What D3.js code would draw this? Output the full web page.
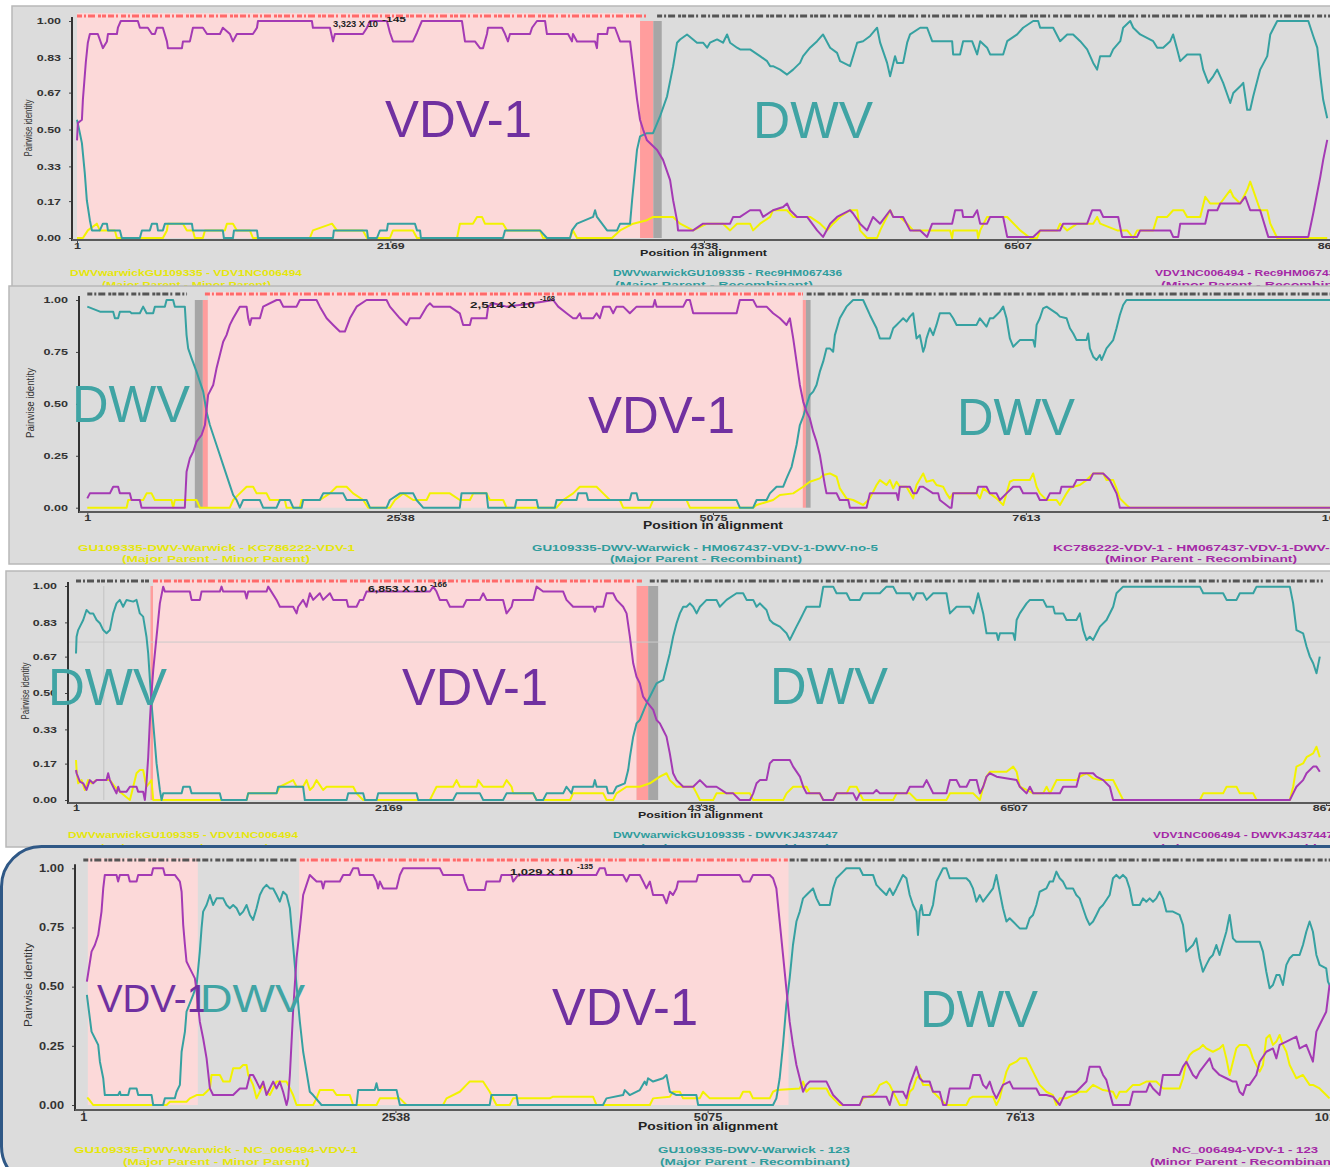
<!DOCTYPE html>
<html>
<head>
<meta charset="utf-8">
<script src="https://cdn.jsdelivr.net/npm/d3@7"></script>
<style>
  body { margin: 0; background: #ffffff; }
  svg { display: block; }
</style>
</head>
<body>
<svg id="chart" width="1330" height="1167"></svg>
<script>
// ---------- axis ticks ----------
const xTicks8676 = [1, 2169, 4338, 6507, 8676];
const xTicks10150 = [1, 2538, 5075, 7613, 10150];
const yTicksSixths = [0, 0.17, 0.33, 0.5, 0.67, 0.83, 1];
const yTicksQuarters = [0, 0.25, 0.5, 0.75, 1];

// ---------- panel 1: DWVwarwickGU109335 / VDV1NC006494 / Rec9HM067436 ----------
const p1Purple = [[1,.45],[7,.53],[35,.545],[42,.64],[62,.81],[76,.90],[90,.94],[145,.94],[180,.875],[208,.906],[215,.94],[277,.94],[284,.969],[304,1],[422,1],[436,.969],[491,.969],[519,.94],[540,.94],[554,.969],[595,.969],[623,.906],[630,.875],[727,.875],[734,.906],[782,.906],[803,.969],[872,.969],[900,.94],[990,.94],[1010,.969],[1059,.94],[1080,.906],[1107,.94],[1218,.94],[1246,.969],[1253,1],[1626,1],[1633,.969],[1751,.969],[1772,.906],[1785,.94],[1979,.94],[2007,.969],[2028,1],[2145,1],[2166,.946],[2187,.906],[2325,.906],[2353,.946],[2387,1],[2664,1],[2685,.906],[2754,.906],[2789,.875],[2810,.875],[2837,.94],[2844,.969],[2941,.969],[2962,.94],[2982,.906],[2996,.94],[3135,.94],[3149,.969],[3183,1],[3239,1],[3252,.94],[3398,.94],[3425,.906],[3432,.94],[3460,.906],[3585,.906],[3598,.875],[3605,.94],[3668,.94],[3675,.969],[3723,.969],[3758,.906],[3827,.906],[3848,.79],[3875,.64],[3896,.545],[3917,.5],[3944,.45],[4014,.406],[4055,.36],[4104,.267],[4125,.174],[4152,.08],[4159,.035],[4263,.035],[4332,.066],[4519,.066],[4540,.097],[4588,.097],[4657,.128],[4726,.128],[4747,.097],[4816,.128],[4886,.143],[4913,.159],[4934,.128],[4982,.097],[5052,.097],[5121,.035],[5162,.005],[5211,.066],[5259,.097],[5349,.128],[5370,.113],[5418,.066],[5467,.035],[5508,.097],[5557,.066],[5626,.128],[5647,.097],[5716,.097],[5764,.035],[5834,.035],[5882,.005],[5917,.066],[6055,.066],[6076,.128],[6124,.128],[6131,.097],[6200,.097],[6228,.128],[6249,.066],[6297,.066],[6318,.097],[6408,.097],[6436,.005],[6616,.005],[6664,.035],[6802,.035],[6823,.066],[6989,.066],[7024,.128],[7079,.128],[7100,.097],[7204,.097],[7231,.005],[7335,.005],[7356,.035],[7564,.035],[7584,.005],[7619,.005],[7633,.066],[7806,.066],[7827,.128],[7889,.128],[7910,.159],[8048,.159],[8083,.19],[8117,.128],[8186,.128],[8242,.005],[8519,.005],[8553,.113],[8602,.282],[8622,.36],[8650,.452]];
const p1Teal = [[1,.545],[21,.483],[35,.437],[55,.298],[69,.174],[90,.082],[104,.035],[159,.035],[180,.066],[208,.066],[215,.035],[298,.035],[311,0],[436,0],[450,.035],[505,.035],[519,.066],[554,.066],[561,.035],[595,.035],[609,.066],[796,.066],[803,.035],[1010,.035],[1017,0],[1080,0],[1087,.035],[1246,.035],[1253,0],[1772,0],[1778,.035],[2007,.035],[2014,0],[2076,0],[2097,.035],[2145,.035],[2152,.066],[2339,.066],[2353,.035],[2374,.035],[2380,0],[2948,0],[2962,.035],[3204,.035],[3252,0],[3412,0],[3425,.035],[3460,.066],[3571,.097],[3585,.128],[3598,.097],[3668,.035],[3737,.035],[3758,.066],[3827,.066],[3841,.174],[3875,.406],[3896,.468],[3944,.483],[3986,.483],[4034,.56],[4083,.653],[4125,.792],[4152,.9],[4173,.915],[4221,.938],[4263,.915],[4290,.9],[4332,.9],[4360,.877],[4380,.9],[4429,.915],[4470,.9],[4498,.938],[4519,.9],[4567,.877],[4588,.869],[4657,.869],[4726,.838],[4775,.815],[4796,.792],[4816,.792],[4865,.776],[4913,.753],[4955,.776],[5003,.807],[5024,.838],[5072,.877],[5121,.907],[5162,.938],[5211,.877],[5259,.853],[5280,.815],[5349,.792],[5398,.9],[5439,.907],[5488,.931],[5536,.969],[5557,.9],[5605,.807],[5626,.745],[5660,.838],[5674,.807],[5716,.807],[5744,.9],[5764,.938],[5834,.969],[5882,.969],[5917,.907],[6055,.907],[6062,.846],[6110,.846],[6131,.907],[6193,.907],[6228,.846],[6249,.907],[6297,.877],[6318,.846],[6408,.846],[6436,.907],[6505,.938],[6546,.969],[6616,1],[6650,1],[6664,.969],[6754,.969],[6802,.907],[6851,.938],[6892,.938],[6941,.907],[6989,.869],[7031,.807],[7058,.776],[7079,.838],[7148,.838],[7169,.869],[7218,.907],[7238,.969],[7287,1],[7308,.969],[7356,.938],[7446,.907],[7474,.877],[7515,.877],[7564,.907],[7584,.938],[7612,.869],[7633,.815],[7681,.846],[7771,.846],[7792,.776],[7827,.715],[7861,.745],[7889,.776],[7930,.715],[7979,.622],[8000,.668],[8048,.699],[8069,.715],[8096,.591],[8117,.591],[8138,.653],[8186,.776],[8235,.838],[8256,.938],[8304,1],[8519,1],[8553,.931],[8581,.877],[8602,.745],[8622,.637],[8650,.552]];
const p1Yellow = [[1,0],[42,0],[76,.035],[138,.066],[159,.035],[263,.035],[277,0],[595,0],[623,.035],[630,.066],[734,.066],[761,.035],[803,.035],[816,0],[872,0],[886,.035],[1024,.035],[1038,.066],[1080,.066],[1107,.035],[1197,.035],[1218,0],[1612,0],[1633,.035],[1765,.066],[1799,.035],[1979,.035],[2007,0],[2166,0],[2187,.035],[2325,.035],[2353,0],[2630,0],[2650,.066],[2740,.066],[2768,.097],[2803,.097],[2823,.066],[2948,.066],[2976,.035],[3204,.035],[3225,0],[3412,0],[3432,.035],[3460,0],[3702,0],[3758,.035],[3848,.066],[3944,.082],[3986,.097],[4125,.097],[4173,.066],[4263,.035],[4360,.066],[4470,.066],[4519,.035],[4567,.066],[4657,.066],[4678,.035],[4726,.066],[4796,.097],[4816,.128],[4913,.128],[4955,.097],[5072,.097],[5142,.066],[5190,.035],[5232,.066],[5280,.097],[5349,.128],[5398,.128],[5418,.035],[5467,0],[5536,0],[5557,.035],[5626,.128],[5647,.097],[5695,.097],[5744,.066],[5785,.035],[6041,.035],[6055,0],[6062,.035],[6228,.035],[6235,0],[6249,.035],[6297,.097],[6436,.097],[6526,.035],[6595,0],[6643,0],[6664,.035],[6782,.035],[6802,.066],[6851,.035],[6920,.066],[7031,.066],[7058,.097],[7079,.066],[7197,.035],[7266,.035],[7308,0],[7335,.035],[7446,.035],[7474,.097],[7543,.097],[7584,.128],[7654,.128],[7681,.097],[7771,.097],[7806,.19],[7840,.159],[7910,.159],[7979,.221],[8000,.19],[8048,.159],[8096,.221],[8117,.26],[8138,.221],[8186,.128],[8235,.128],[8256,.066],[8304,0],[8650,0]];
const p1Regions = [[1,3896,'recomb'],[3896,3988,'edge'],[3988,4046,'ci']];
const p1Strip = [[1,3944,'red'],[4014,8676,'dark']];
const p1Names = ['VDV-1', 'DWV'];
const p1PValue = ['3,323 X 10', '-145'];
const p1Legend = [
  ['DWVwarwickGU109335 - VDV1NC006494', '(Major Parent - Minor Parent)'],
  ['DWVwarwickGU109335 - Rec9HM067436', '(Major Parent - Recombinant)'],
  ['VDV1NC006494 - Rec9HM067436', '(Minor Parent - Recombinant)']
];

// ---------- panel 2: GU109335-DWV-Warwick / KC786222-VDV-1 / HM067437-VDV-1-DWV-no-5 ----------
const p2Purple = [[1,.045],[22,.069],[184,.069],[211,.101],[251,.101],[265,.069],[346,.069],[360,.037],[427,.037],[441,0],[792,0],[806,.173],[833,.238],[860,.27],[887,.318],[928,.35],[955,.398],[981,.543],[1022,.591],[1049,.671],[1076,.735],[1103,.799],[1130,.831],[1157,.88],[1184,.912],[1238,.968],[1293,.968],[1306,.912],[1320,.88],[1333,.912],[1401,.912],[1427,.968],[1536,1],[1563,1],[1590,.968],[1698,.968],[1725,1],[1860,1],[1887,.968],[1942,.912],[1995,.88],[2049,.848],[2090,.848],[2131,.912],[2185,.968],[2266,1],[2428,1],[2455,.968],[2536,.912],[2590,.88],[2617,.912],[2698,.912],[2753,.968],[2779,.984],[2806,.968],[2941,.968],[3022,.936],[3049,.88],[3104,.88],[3117,.912],[3239,.912],[3252,.968],[3293,.984],[3401,.968],[3617,.984],[3779,1],[3820,.968],[3888,.936],[3941,.912],[3969,.912],[3996,.936],[4009,.912],[4104,.912],[4131,.936],[4158,.912],[4185,.968],[4239,.968],[4266,.936],[4293,.968],[4347,.968],[4401,.936],[4456,.968],[4590,.968],[4604,1],[4618,.968],[4834,.968],[4861,1],[4888,1],[4915,.936],[5267,.936],[5293,1],[5401,1],[5429,.968],[5510,.968],[5563,.936],[5618,.912],[5672,.88],[5699,.912],[5726,.815],[5753,.703],[5780,.591],[5807,.511],[5834,.462],[5861,.43],[5888,.366],[5915,.318],[5942,.254],[5969,.157],[5983,.109],[5996,.069],[6078,.069],[6104,.037],[6172,.037],[6186,0],[6321,0],[6348,.069],[6564,.069],[6577,.037],[6591,.101],[6672,.101],[6699,.069],[6726,.069],[6753,.101],[6780,.101],[6861,.069],[6902,.069],[6915,.037],[6996,0],[7010,0],[7023,.069],[7213,.069],[7226,.101],[7294,.101],[7321,.069],[7375,.069],[7402,.037],[7456,.069],[7510,.101],[7564,.101],[7591,.069],[7700,.069],[7726,.037],[7781,.037],[7808,.069],[7889,.069],[7902,.101],[7997,.101],[8024,.133],[8132,.133],[8159,.165],[8240,.165],[8294,.133],[8321,.101],[8348,.069],[8362,.037],[8375,0],[10150,0]];
const p2Teal = [[1,.968],[104,.944],[211,.944],[225,.912],[251,.912],[265,.944],[346,.944],[360,.936],[427,.936],[454,.968],[482,.936],[535,.936],[549,.968],[630,.968],[644,1],[697,1],[711,.968],[792,.968],[806,.831],[819,.767],[847,.719],[887,.655],[914,.607],[941,.559],[968,.462],[995,.398],[1022,.35],[1049,.302],[1076,.254],[1103,.205],[1130,.157],[1157,.109],[1184,.061],[1212,.037],[1238,0],[1265,.037],[1401,.037],[1427,0],[1536,0],[1563,.037],[1644,.037],[1671,0],[1739,0],[1752,.037],[1887,.037],[1914,.069],[2076,.069],[2104,.037],[2266,.037],[2293,0],[2428,0],[2455,.037],[2536,.069],[2644,.069],[2671,.037],[2725,0],[3022,0],[3036,.069],[3239,.069],[3252,0],[3469,0],[3482,.037],[3645,.037],[3658,0],[3793,0],[3807,.037],[3969,.037],[3982,.069],[4050,.069],[4063,.037],[4401,.037],[4415,.069],[4456,.069],[4469,.037],[5267,.037],[5293,0],[5401,0],[5429,.037],[5510,.037],[5537,.069],[5591,.101],[5645,.101],[5672,.141],[5713,.197],[5753,.302],[5780,.398],[5807,.438],[5834,.494],[5861,.543],[5888,.559],[5915,.591],[5942,.655],[5969,.703],[5996,.767],[6023,.767],[6050,.751],[6064,.831],[6104,.912],[6158,.968],[6212,1],[6293,1],[6348,.928],[6402,.864],[6429,.815],[6510,.815],[6537,.864],[6564,.88],[6591,.896],[6618,.912],[6645,.896],[6672,.92],[6699,.936],[6726,.815],[6753,.831],[6780,.751],[6794,.775],[6807,.815],[6834,.864],[6861,.831],[6888,.88],[6915,.936],[6996,.936],[7023,.912],[7051,.88],[7213,.88],[7240,.912],[7294,.872],[7321,.912],[7348,.912],[7375,.928],[7402,.944],[7429,.968],[7456,.912],[7483,.815],[7510,.775],[7564,.807],[7672,.807],[7686,.775],[7700,.88],[7726,.912],[7753,.96],[7781,.968],[7862,.936],[7889,.92],[7943,.912],[7970,.864],[7997,.839],[8024,.807],[8105,.807],[8118,.839],[8132,.767],[8159,.727],[8186,.711],[8213,.735],[8227,.711],[8267,.767],[8321,.807],[8348,.864],[8375,.928],[8402,.976],[8429,1],[10150,1]];
const p2Yellow = [[1,0],[320,0],[333,.037],[454,.037],[482,.069],[522,.069],[549,.037],[684,.037],[697,0],[711,.037],[887,.037],[914,0],[1157,0],[1184,.037],[1238,.069],[1293,.101],[1346,.101],[1374,.069],[1455,.069],[1482,.037],[1603,.037],[1617,0],[1725,0],[1739,.037],[1887,.037],[1968,.069],[2023,.101],[2104,.101],[2157,.069],[2239,.037],[2279,0],[2455,0],[2496,.037],[2563,.069],[2644,.037],[2753,.037],[2779,.069],[2941,.069],[3022,.037],[3104,.037],[3131,.069],[3239,.069],[3266,.037],[3374,.037],[3401,0],[3807,0],[3860,.037],[3941,.069],[3996,.101],[4131,.101],[4185,.069],[4239,.037],[4320,.037],[4347,0],[4564,0],[4590,.037],[4861,.037],[4888,0],[5401,0],[5429,.013],[5563,.037],[5618,.061],[5726,.069],[5807,.101],[5861,.125],[5942,.141],[5969,.157],[6023,.165],[6078,.149],[6104,.093],[6158,.045],[6212,.037],[6293,.013],[6348,.045],[6402,.109],[6429,.133],[6483,.109],[6510,.133],[6537,.093],[6564,.125],[6591,.101],[6645,.101],[6699,.045],[6726,.109],[6780,.165],[6807,.125],[6861,.133],[6888,.109],[6942,.101],[6969,.069],[6996,.045],[7023,.069],[7213,.069],[7240,.045],[7267,.093],[7321,.069],[7375,.045],[7429,.013],[7456,.069],[7483,.125],[7510,.133],[7645,.133],[7672,.165],[7700,.101],[7726,.069],[7781,.037],[7862,.037],[7889,.013],[7943,.069],[7970,.093],[7997,.101],[8051,.109],[8105,.133],[8132,.149],[8159,.165],[8240,.165],[8267,.133],[8321,.133],[8348,.093],[8375,.045],[8429,.013],[8456,0],[10150,0]];
const p2Regions = [[873,938,'ci'],[938,979,'edge'],[979,5804,'recomb'],[5804,5829,'edge'],[5829,5867,'ci']];
const p2Strip = [[1,810,'dark'],[955,5805,'red'],[5835,10150,'dark']];
const p2Names = ['DWV', 'VDV-1', 'DWV'];
const p2PValue = ['2,514 X 10', '-168'];
const p2Legend = [
  ['GU109335-DWV-Warwick - KC786222-VDV-1', '(Major Parent - Minor Parent)'],
  ['GU109335-DWV-Warwick - HM067437-VDV-1-DWV-no-5', '(Major Parent - Recombinant)'],
  ['KC786222-VDV-1 - HM067437-VDV-1-DWV-no-5', '(Minor Parent - Recombinant)']
];

// ---------- panel 3: DWVwarwickGU109335 / VDV1NC006494 / DWVKJ437447 ----------
const p3Purple = [[1,.14],[5,.125],[28,.086],[51,.078],[74,.047],[97,.093],[120,.078],[144,.093],[213,.093],[224,.125],[236,.093],[259,.062],[282,.031],[294,.062],[305,.039],[352,.039],[375,.062],[421,.062],[432,.039],[467,.039],[479,0],[490,.078],[502,.2],[514,.374],[525,.498],[537,.607],[560,.763],[583,.919],[606,.997],[618,.974],[791,.974],[803,.935],[861,.935],[872,.974],[999,.974],[1011,.997],[1022,.974],[1173,.974],[1185,.942],[1196,.974],[1323,.974],[1335,.997],[1393,.935],[1416,.903],[1508,.903],[1532,.872],[1543,.903],[1577,.935],[1601,.903],[1624,.966],[1647,.935],[1693,.966],[1716,.935],[1763,.966],[1786,.935],[1879,.935],[1890,.903],[1948,.903],[1971,.935],[1994,.935],[2017,.974],[2457,.974],[2480,.997],[2503,.974],[2526,.935],[2573,.935],[2596,.903],[2688,.903],[2711,.935],[2804,.935],[2827,.966],[2850,.935],[2965,.935],[2989,.872],[3024,.903],[3035,.935],[3174,.935],[3197,.997],[3243,.974],[3382,.974],[3405,.935],[3451,.903],[3590,.903],[3602,.88],[3614,.903],[3660,.903],[3683,.966],[3729,.966],[3752,.935],[3798,.903],[3822,.872],[3845,.763],[3868,.639],[3891,.576],[3914,.545],[3937,.483],[3961,.46],[4007,.421],[4030,.374],[4053,.358],[4076,.327],[4099,.296],[4122,.218],[4145,.125],[4169,.093],[4215,.062],[4284,.062],[4331,.093],[4377,.062],[4446,.062],[4516,.031],[4562,.031],[4608,0],[4678,0],[4701,.031],[4724,.078],[4747,.093],[4793,.093],[4816,.171],[4839,.187],[4955,.187],[4978,.156],[5025,.109],[5048,.062],[5071,.031],[5163,.031],[5187,0],[5256,0],[5279,.031],[5395,.031],[5418,0],[5441,.031],[5533,.031],[5556,.047],[5580,.031],[5765,.031],[5788,.062],[5880,.062],[5904,.093],[5927,.062],[5950,.031],[6042,.031],[6066,.093],[6112,.093],[6135,.062],[6181,.062],[6204,.093],[6251,.093],[6274,.031],[6297,.062],[6320,.109],[6343,.125],[6390,.109],[6529,.093],[6551,.062],[6598,.031],[6621,.062],[6644,.031],[6829,.031],[6852,.062],[6944,.062],[6968,.125],[7060,.125],[7083,.109],[7130,.093],[7176,.062],[7199,0],[8425,0],[8448,.031],[8471,.062],[8517,.093],[8541,.125],[8587,.156],[8610,.156],[8633,.132]];
const p3Teal = [[1,.685],[5,.763],[16,.794],[28,.81],[51,.841],[74,.888],[97,.872],[120,.872],[144,.841],[167,.826],[190,.794],[213,.779],[236,.794],[259,.872],[282,.919],[305,.935],[328,.903],[352,.935],[398,.927],[421,.935],[444,.872],[467,.857],[490,.763],[502,.685],[514,.561],[525,.452],[537,.358],[560,.171],[583,.047],[595,0],[606,.031],[734,.031],[745,.062],[791,.062],[803,.031],[999,.031],[1011,0],[1185,0],[1196,.031],[1393,.031],[1404,.062],[1577,.062],[1589,0],[1879,0],[1890,.031],[1994,.031],[2006,0],[2087,0],[2098,.031],[2364,.031],[2376,0],[2618,0],[2642,.031],[2804,.031],[2827,0],[2965,0],[2989,.031],[3174,.031],[3197,0],[3243,0],[3267,.031],[3382,.031],[3405,.062],[3440,.031],[3451,.062],[3590,.062],[3602,.093],[3614,.062],[3683,.062],[3694,.031],[3729,.031],[3752,.062],[3810,.078],[3833,.14],[3845,.2],[3868,.296],[3891,.358],[3914,.374],[3961,.452],[4007,.514],[4030,.545],[4076,.561],[4099,.623],[4122,.685],[4145,.763],[4169,.826],[4192,.872],[4215,.903],[4238,.903],[4261,.919],[4284,.903],[4308,.872],[4331,.903],[4354,.919],[4377,.935],[4446,.935],[4469,.903],[4516,.935],[4585,.966],[4631,.966],[4655,.935],[4701,.935],[4724,.903],[4747,.919],[4770,.903],[4793,.888],[4816,.841],[4839,.826],[4886,.81],[4932,.779],[4955,.748],[4978,.779],[5001,.81],[5025,.841],[5048,.872],[5071,.903],[5163,.903],[5187,.997],[5256,.997],[5279,.966],[5349,.966],[5372,.935],[5441,.935],[5464,.966],[5580,.966],[5626,.997],[5672,.997],[5696,.966],[5788,.966],[5811,.935],[5834,.966],[5880,.966],[5904,.935],[5950,.966],[6042,.966],[6066,.872],[6112,.903],[6204,.903],[6228,.872],[6251,.935],[6262,.966],[6274,.935],[6297,.872],[6320,.779],[6390,.779],[6401,.748],[6413,.779],[6505,.779],[6517,.748],[6529,.841],[6551,.872],[6598,.919],[6621,.935],[6713,.935],[6737,.903],[6783,.903],[6794,.872],[6852,.872],[6875,.841],[6944,.841],[6968,.872],[6991,.794],[7014,.748],[7037,.763],[7060,.748],[7083,.779],[7107,.81],[7153,.841],[7199,.903],[7222,.966],[7268,.997],[7801,.997],[7824,.966],[7962,.966],[7986,.935],[8055,.935],[8078,.966],[8171,.966],[8194,.997],[8425,.997],[8448,.919],[8471,.794],[8517,.779],[8541,.717],[8564,.67],[8587,.639],[8610,.592],[8633,.67]];
const p3Yellow = [[1,.187],[5,.14],[16,.078],[40,.093],[62,.047],[85,.093],[109,.078],[144,.093],[236,.093],[271,.062],[305,.039],[375,0],[387,.031],[421,.125],[444,.14],[467,.14],[490,.062],[525,.093],[537,0],[1185,0],[1196,.031],[1393,.031],[1416,.062],[1508,.093],[1532,.062],[1577,.062],[1601,.093],[1624,.047],[1647,.062],[1670,.093],[1716,.047],[1740,.062],[1786,.062],[1925,.062],[1948,.031],[1994,0],[2457,0],[2480,.031],[2503,.062],[2618,.062],[2642,.093],[2665,.062],[2781,.062],[2792,.093],[2827,.062],[2965,.062],[2989,.093],[3024,.062],[3035,.031],[3174,.031],[3197,0],[3430,0],[3451,.031],[3660,.031],[3683,0],[3729,0],[3752,.031],[3822,.062],[3914,.062],[3984,.078],[4053,.109],[4099,.125],[4122,.093],[4145,.078],[4169,.062],[4284,.062],[4308,.031],[4331,0],[4423,0],[4446,.031],[4678,.031],[4701,0],[4909,0],[4932,.031],[4978,.062],[5071,.062],[5094,.031],[5163,.031],[5187,0],[5256,0],[5279,.031],[5349,.031],[5372,.062],[5418,.062],[5441,.031],[5464,0],[5672,0],[5696,.031],[5788,.031],[5834,0],[6042,0],[6066,.031],[6228,.031],[6274,0],[6297,.062],[6320,.109],[6343,.132],[6459,.132],[6505,.156],[6529,.132],[6551,.062],[6598,.047],[6644,.031],[6713,.031],[6737,.062],[6760,.031],[6783,.062],[6806,.093],[6944,.093],[6968,.109],[7014,.125],[7060,.101],[7107,.093],[7199,.093],[7222,.062],[7245,.031],[7268,0],[7801,0],[7824,.031],[7962,.031],[7986,.062],[8055,.062],[8078,.031],[8171,.031],[8194,0],[8425,0],[8448,.062],[8471,.156],[8517,.171],[8541,.2],[8587,.218],[8610,.249],[8633,.2]];
const p3Regions = [[518,536,'edge'],[536,3891,'recomb'],[3891,3972,'edge'],[3972,4041,'ci']];
const p3Strip = [[1,514,'dark'],[535,3935,'red'],[3983,8654,'dark']];
const p3Guides = { positions: [194], identities: [0.738] };
const p3Names = ['DWV', 'VDV-1', 'DWV'];
const p3PValue = ['6,853 X 10', '-166'];
const p3Legend = [
  ['DWVwarwickGU109335 - VDV1NC006494', '(Major Parent - Minor Parent)'],
  ['DWVwarwickGU109335 - DWVKJ437447', '(Major Parent - Recombinant)'],
  ['VDV1NC006494 - DWVKJ437447', '(Minor Parent - Recombinant)']
];

// ---------- panel 4: GU109335-DWV-Warwick / NC_006494-VDV-1 / 123 ----------
const p4Purple = [[30,.521],[68,.648],[95,.676],[122,.718],[149,.817],[163,.915],[176,.972],[271,.972],[284,.944],[298,.972],[366,.972],[379,.944],[434,.944],[447,.972],[556,.972],[569,1],[650,1],[664,.972],[745,.972],[786,.944],[800,.901],[813,.761],[827,.676],[840,.606],[867,.577],[908,.535],[922,.479],[948,.352],[975,.282],[1003,.197],[1030,.07],[1056,.042],[1219,.042],[1273,.07],[1328,.07],[1355,.127],[1381,.127],[1409,.099],[1436,.07],[1463,.099],[1490,.042],[1544,.099],[1572,.07],[1598,.099],[1625,.056],[1653,0],[1666,.028],[1680,.127],[1706,.394],[1734,.62],[1761,.746],[1775,.817],[1788,.887],[1815,.93],[1842,.972],[1869,.958],[1897,.944],[1937,.944],[1950,.915],[1964,.944],[2086,.944],[2113,.972],[2167,.972],[2194,1],[2235,1],[2248,.972],[2357,.972],[2384,.944],[2397,.915],[2411,.944],[2438,.915],[2547,.915],[2574,.972],[2601,1],[2899,1],[2925,.972],[3088,.972],[3102,.944],[3129,.908],[3264,.908],[3278,.944],[3386,.944],[3400,.972],[3481,.972],[3494,.944],[3535,.972],[4170,.972],[4198,1],[4239,1],[4253,.972],[4388,.972],[4416,.944],[4442,.972],[4524,.972],[4551,.944],[4578,.915],[4606,.944],[4632,.887],[4713,.887],[4741,.852],[4768,.901],[4794,.887],[4822,.915],[4835,.944],[4984,.944],[4998,.972],[5336,.972],[5363,.944],[5418,.944],[5444,.972],[5580,.972],[5607,.958],[5634,.915],[5661,.775],[5688,.634],[5715,.493],[5742,.352],[5769,.254],[5797,.169],[5824,.113],[5851,.056],[5878,.085],[5905,.099],[6041,.099],[6068,.07],[6095,.042],[6149,.014],[6176,0],[6311,0],[6338,.035],[6528,.035],[6555,0],[6582,.056],[6663,.056],[6691,.028],[6718,.085],[6772,.162],[6799,.113],[6826,.099],[6880,.099],[6907,.056],[6962,.056],[6989,0],[7016,0],[7043,.07],[7205,.07],[7232,.127],[7287,.127],[7314,.085],[7341,.07],[7368,.099],[7395,.056],[7422,.028],[7476,.085],[7530,.099],[7557,.07],[7747,.07],[7774,.042],[7829,.042],[7882,.035],[7937,0],[7963,.028],[7991,.056],[8072,.056],[8154,.099],[8180,.162],[8262,.162],[8289,.127],[8316,.106],[8370,0],[8505,0],[8532,.056],[8641,.056],[8668,.092],[8695,.07],[8749,.042],[8776,.127],[8911,.127],[8939,.162],[8966,.183],[9020,.127],[9047,.113],[9074,.141],[9156,.197],[9182,.155],[9236,.127],[9291,.113],[9345,.099],[9372,.099],[9399,.056],[9426,.042],[9454,.085],[9480,.085],[9535,.127],[9562,.183],[9616,.225],[9670,.239],[9698,.197],[9724,.254],[9779,.268],[9860,.289],[9887,.239],[9941,.254],[9995,.183],[10023,.31],[10049,.338],[10103,.394],[10130,.507]];
const p4Teal = [[30,.465],[68,.31],[95,.282],[122,.254],[136,.183],[163,.113],[176,.042],[284,.042],[298,.056],[305,.042],[366,.042],[379,.07],[434,.07],[447,.042],[556,.042],[569,0],[650,0],[664,.028],[745,.028],[759,.056],[786,.085],[800,.225],[827,.31],[840,.394],[894,.465],[922,.507],[948,.648],[962,.746],[975,.817],[1003,.845],[1030,.887],[1056,.845],[1084,.873],[1138,.873],[1165,.845],[1192,.831],[1219,.845],[1247,.831],[1273,.803],[1300,.817],[1328,.845],[1355,.803],[1381,.782],[1409,.831],[1436,.887],[1463,.915],[1490,.93],[1517,.915],[1544,.915],[1572,.887],[1598,.859],[1625,.901],[1653,.887],[1680,.831],[1706,.676],[1734,.507],[1761,.352],[1788,.225],[1815,.141],[1842,.056],[1869,.042],[1937,0],[2222,0],[2235,.063],[2370,.063],[2384,.092],[2397,.063],[2547,.063],[2574,0],[3304,0],[3318,.042],[3522,.042],[3535,0],[4225,0],[4253,.028],[4388,.042],[4402,.063],[4442,.042],[4524,.063],[4564,.099],[4578,.085],[4591,.113],[4632,.099],[4713,.113],[4741,.127],[4768,.056],[4822,.042],[4984,.042],[4998,0],[5607,0],[5634,.028],[5661,.113],[5688,.254],[5715,.423],[5742,.535],[5769,.676],[5797,.775],[5824,.817],[5851,.873],[5878,.887],[5905,.901],[5932,.915],[5960,.873],[5987,.845],[6068,.845],[6095,.915],[6122,.958],[6176,.986],[6203,1],[6311,1],[6338,.972],[6420,.972],[6447,.93],[6474,.915],[6528,.887],[6555,.915],[6582,.887],[6610,.915],[6637,.944],[6663,.972],[6691,.958],[6718,.887],[6745,.845],[6772,.817],[6785,.718],[6799,.817],[6813,.845],[6826,.803],[6880,.803],[6907,.845],[6935,.944],[6989,1],[7016,1],[7043,.958],[7178,.958],[7205,.944],[7232,.915],[7260,.859],[7287,.887],[7314,.859],[7395,.915],[7422,.972],[7449,.901],[7476,.831],[7504,.775],[7530,.789],[7557,.775],[7612,.746],[7666,.746],[7693,.789],[7720,.803],[7747,.845],[7774,.901],[7829,.915],[7856,.944],[7882,.944],[7910,.986],[7937,.958],[7963,.944],[7991,.915],[8045,.915],[8072,.887],[8099,.873],[8126,.831],[8154,.789],[8180,.761],[8208,.775],[8235,.803],[8262,.831],[8289,.845],[8343,.887],[8370,.958],[8397,.972],[8424,.958],[8451,.972],[8478,.958],[8505,.915],[8532,.845],[8587,.845],[8614,.873],[8641,.859],[8668,.873],[8695,.859],[8722,.873],[8749,.901],[8776,.873],[8804,.817],[8857,.817],[8911,.803],[8939,.761],[8966,.648],[8993,.662],[9020,.676],[9047,.704],[9074,.62],[9101,.563],[9128,.592],[9156,.62],[9182,.634],[9210,.676],[9236,.634],[9291,.732],[9318,.803],[9345,.704],[9372,.69],[9562,.69],[9589,.648],[9616,.563],[9643,.493],[9670,.507],[9698,.549],[9724,.549],[9751,.507],[9779,.592],[9806,.62],[9833,.634],[9887,.634],[9914,.676],[9941,.732],[9968,.775],[9995,.732],[10023,.634],[10049,.592],[10103,.577],[10117,.521],[10130,.507]];
const p4Yellow = [[30,.028],[41,.028],[81,0],[678,0],[705,.014],[840,.014],[867,.028],[922,.042],[975,.042],[1003,.056],[1030,.07],[1043,.127],[1111,.127],[1138,.099],[1192,.099],[1219,.155],[1273,.155],[1300,.169],[1328,.169],[1341,.127],[1355,.113],[1381,.085],[1409,.028],[1436,.056],[1463,.085],[1490,.056],[1517,.042],[1572,.099],[1653,.099],[1680,.07],[1706,.042],[1734,0],[1869,0],[1897,.028],[1923,.063],[2032,.063],[2059,.042],[2167,.042],[2194,0],[2384,0],[2411,.028],[2574,.028],[2628,0],[2925,0],[2953,.028],[3061,.056],[3115,.085],[3142,.099],[3250,.099],[3304,.056],[3359,0],[3467,0],[3494,.028],[3792,.028],[3819,.035],[4144,.035],[4172,0],[4606,0],[4632,.028],[4768,.035],[4794,.056],[4849,.056],[4876,.028],[5011,.028],[5038,.056],[5093,.028],[5336,.028],[5363,.056],[5418,.056],[5444,.028],[5580,.028],[5607,.056],[5634,.063],[5824,.07],[5851,.099],[5878,.056],[5905,.07],[6041,.07],[6068,.042],[6095,.028],[6149,0],[6311,0],[6338,.028],[6420,.042],[6447,.056],[6474,.085],[6528,.099],[6555,.085],[6582,.056],[6610,.028],[6637,0],[6691,0],[6718,.056],[6745,.07],[6772,.113],[6799,.127],[6826,.085],[6880,.085],[6907,.056],[7016,0],[7178,0],[7205,.028],[7232,.035],[7395,.035],[7422,0],[7449,.028],[7476,.085],[7504,.141],[7530,.169],[7585,.183],[7612,.197],[7666,.197],[7693,.169],[7720,.141],[7747,.113],[7774,.085],[7829,.056],[7882,.042],[7910,0],[7937,.028],[7991,.028],[8045,.042],[8099,.056],[8154,.056],[8208,.085],[8262,.07],[8289,.063],[8370,.056],[8397,.028],[8424,.056],[8478,.056],[8532,.085],[8587,.085],[8641,.099],[8722,.099],[8749,.085],[8776,.07],[8911,.07],[8939,.113],[8966,.183],[8993,.211],[9020,.225],[9074,.239],[9101,.254],[9128,.239],[9182,.225],[9236,.239],[9264,.254],[9291,.197],[9318,.127],[9345,.183],[9372,.239],[9399,.254],[9454,.254],[9480,.239],[9507,.197],[9562,.141],[9589,.169],[9616,.282],[9643,.296],[9670,.254],[9698,.268],[9724,.296],[9751,.254],[9779,.225],[9806,.169],[9833,.141],[9860,.113],[9914,.127],[9968,.085],[9995,.085],[10049,.07],[10103,.042],[10130,.028]];
const p4Regions = [[38,932,'recomb'],[1755,5733,'recomb']];
const p4Strip = [[1,1745,'dark'],[1761,5727,'red'],[5742,10150,'dark']];
const p4Names = ['VDV-1', 'DWV', 'VDV-1', 'DWV'];
const p4PValue = ['1,029 X 10', '-135'];
const p4Legend = [
  ['GU109335-DWV-Warwick - NC_006494-VDV-1', '(Major Parent - Minor Parent)'],
  ['GU109335-DWV-Warwick - 123', '(Major Parent - Recombinant)'],
  ['NC_006494-VDV-1 - 123', '(Minor Parent - Recombinant)']
];

// ---------- styling ----------
const FONT = "'Liberation Sans', Arial, Helvetica, sans-serif";
const NARROW = "'Liberation Sans Narrow', 'Liberation Sans', Arial, sans-serif";
const lineColors = { yellow: '#f2f200', teal: '#36a1a1', purple: '#a43ab4' };
const legendColors = ['#e6e60c', '#2f9c9c', '#a428a6'];
const nameColors = { 'VDV-1': '#7030a0', 'DWV': '#40a4a4' };
const regionFill = { recomb: '#fcd9d9', edge: '#ff9d9d', ci: '#a6a6a6' };
const stripColor = { red: '#ff6a6a', dark: '#555555' };
const stripDash = '5 2 2 2 7 3 3 1 4 2 6 2 2 3';

// ---------- per-panel layout ----------
const panels = [
  { frame: [12, 6, 1330, 281], xDomain: [1, 8676], xRange: [77, 1331], yRange: [238, 21],
    axisX: 72, axisY: 240, stripY: 16, shadeTop: 13, tickFont: 9, tickStretch: 1.38, tickPad: 0,
    xTicks: xTicks8676, yTicks: yTicksSixths,
    series: [p1Yellow, p1Teal, p1Purple], regions: p1Regions, strip: p1Strip,
    yTitle: [32, 128, 57], xTitle: [640, 256, 127, 9],
    pv: p1PValue, pvPos: [333, 27, 45, 382, 22, 24],
    names: p1Names, namePos: [[385, 137, 52, 147], [753, 138, 52, 120]],
    legend: p1Legend, legendPos: [[70, 276, 232, 102, 288, 169], [613, 276, 229, 615, 288, 198], [1155, 276, 187, 1161, 288, 198]] },
  { frame: [9, 286, 1330, 278], xDomain: [1, 10150], xRange: [87.3, 1338.7], yRange: [507.7, 300],
    axisX: 79, axisY: 512, stripY: 294, shadeTop: 292, tickFont: 9, tickStretch: 1.4, tickPad: 0,
    xTicks: xTicks10150, yTicks: yTicksQuarters,
    series: [p2Yellow, p2Teal, p2Purple], regions: p2Regions, strip: p2Strip,
    yTitle: [34, 403, 70], xTitle: [643, 529, 140, 10],
    pv: p2PValue, pvPos: [470, 308, 65, 540, 301, 15],
    names: p2Names, namePos: [[72, 422, 52, 118], [588, 433, 52, 147], [957, 435, 52, 118]],
    legend: p2Legend, legendPos: [[78, 551, 277, 122, 562, 188], [532, 551, 346, 610, 562, 192], [1053, 551, 306, 1105, 562, 192]] },
  { frame: [6, 571, 1330, 276], xDomain: [1, 8676], xRange: [76, 1326], yRange: [800, 586],
    axisX: 68, axisY: 803, stripY: 581, shadeTop: 580, tickFont: 9, tickStretch: 1.38, tickPad: -1,
    xTicks: xTicks8676, yTicks: yTicksSixths, guides: p3Guides,
    series: [p3Yellow, p3Teal, p3Purple], regions: p3Regions, strip: p3Strip,
    yTitle: [29, 691, 57], xTitle: [638, 818, 125, 9],
    pv: p3PValue, pvPos: [368, 592, 59, 430, 587, 17],
    names: p3Names, namePos: [[48, 705, 52, 119], [402, 705, 52, 146], [770, 704, 52, 118]],
    legend: p3Legend, legendPos: [[68, 838, 230, 100, 851, 169], [613, 838, 225, 640, 851, 190], [1153, 838, 180, 1160, 851, 190]] },
  { rounded: true, xDomain: [1, 10150], xRange: [83.3, 1332], yRange: [1105, 868.3],
    axisX: 75, axisY: 1110, stripY: 860, shadeTop: 858, tickFont: 10, tickStretch: 1.28, tickPad: 1,
    xTicks: xTicks10150, yTicks: yTicksQuarters,
    series: [p4Yellow, p4Teal, p4Purple], regions: p4Regions, strip: p4Strip,
    yTitle: [32, 985, 84], xTitle: [638, 1130, 140, 10],
    pv: p4PValue, pvPos: [510, 875, 63, 577, 869, 16],
    names: p4Names, namePos: [[97, 1012, 38, 111], [200, 1012, 39, 105], [552, 1025, 52, 146], [920, 1027, 52, 118]],
    legend: p4Legend, legendPos: [[74, 1153, 284, 123, 1165, 187], [658, 1153, 192, 660, 1165, 190], [1172, 1153, 146, 1150, 1165, 190]] }
];

const svg = d3.select('#chart');
const seriesKeys = ['yellow', 'teal', 'purple'];

function fit(sel, w) {
  sel.attr('textLength', w).attr('lengthAdjust', 'spacingAndGlyphs');
}

function drawPanel(cfg) {
  const g = svg.append('g');

  // panel background
  if (cfg.rounded) {
    g.append('rect').attr('x', 1.5).attr('y', 846.5).attr('width', 1400).attr('height', 340)
      .attr('rx', 40).attr('ry', 40)
      .attr('fill', '#dcdcdc').attr('stroke', '#2f5886').attr('stroke-width', 3);
  } else {
    const [fx, fy, fw, fh] = cfg.frame;
    g.append('rect').attr('x', fx).attr('y', fy).attr('width', fw).attr('height', fh)
      .attr('fill', '#dcdcdc').attr('stroke', '#b8b8b8').attr('stroke-width', 1.5);
  }

  const x = d3.scaleLinear().domain(cfg.xDomain).range(cfg.xRange);
  const y = d3.scaleLinear().domain([0, 1]).range(cfg.yRange);

  // recombinant region, breakpoint and confidence bands
  g.selectAll('rect.region').data(cfg.regions).join('rect').attr('class', 'region')
    .attr('x', d => x(d[0]))
    .attr('width', d => x(d[1]) - x(d[0]))
    .attr('y', d => d[2] === 'recomb' ? cfg.shadeTop : y(1))
    .attr('height', d => y(0) - (d[2] === 'recomb' ? cfg.shadeTop : y(1)))
    .attr('fill', d => regionFill[d[2]]);

  // faint guide lines
  if (cfg.guides) {
    cfg.guides.identities.forEach(v => {
      g.append('line').attr('x1', cfg.axisX).attr('x2', 1330).attr('y1', y(v)).attr('y2', y(v))
        .attr('stroke', '#cbcbcb').attr('stroke-width', 1);
    });
    cfg.guides.positions.forEach(p => {
      g.append('line').attr('x1', x(p)).attr('x2', x(p)).attr('y1', y(1)).attr('y2', y(0))
        .attr('stroke', '#c2c2c2').attr('stroke-width', 1);
    });
  }

  // informative-site strip along the top
  g.selectAll('line.strip').data(cfg.strip).join('line').attr('class', 'strip')
    .attr('x1', d => x(d[0])).attr('x2', d => x(d[1]))
    .attr('y1', cfg.stripY).attr('y2', cfg.stripY)
    .attr('stroke', d => stripColor[d[2]]).attr('stroke-width', 3)
    .attr('stroke-dasharray', stripDash);

  // pairwise identity traces
  const line = d3.line().x(d => x(d[0])).y(d => y(d[1]));
  cfg.series.forEach((s, i) => {
    g.append('path').datum(s).attr('d', line)
      .attr('fill', 'none').attr('stroke', lineColors[seriesKeys[i]])
      .attr('stroke-width', 2).attr('stroke-linejoin', 'round');
  });

  // axes
  const yAxis = d3.axisLeft(y).tickValues(cfg.yTicks).tickFormat(d3.format('.2f'))
    .tickSize(3).tickPadding(8);
  const ya = g.append('g').attr('transform', `translate(${cfg.axisX},0)`).call(yAxis);
  const xAxis = d3.axisBottom(x).tickValues(cfg.xTicks).tickFormat(d3.format('d'))
    .tickSize(3).tickPadding(cfg.tickPad);
  const xa = g.append('g').attr('transform', `translate(0,${cfg.axisY})`).call(xAxis);
  [ya, xa].forEach(a => {
    a.select('.domain').remove();
    a.selectAll('line').attr('stroke', '#444');
    a.selectAll('text').attr('font-family', FONT).attr('font-weight', 'bold')
      .attr('font-size', cfg.tickFont).attr('fill', '#333')
      .each(function () {
        const w = this.getComputedTextLength();
        fit(d3.select(this), w * cfg.tickStretch);
      });
  });
  g.append('line').attr('x1', cfg.axisX).attr('x2', cfg.axisX)
    .attr('y1', y(1) - 4).attr('y2', cfg.axisY + 1)
    .attr('stroke', '#333').attr('stroke-width', 2);
  g.append('line').attr('x1', cfg.axisX).attr('x2', 1330)
    .attr('y1', cfg.axisY).attr('y2', cfg.axisY)
    .attr('stroke', '#5a5a5a').attr('stroke-width', 2);

  // axis titles
  const [tx, ty, tl] = cfg.yTitle;
  g.append('text').attr('transform', `translate(${tx},${ty}) rotate(-90)`)
    .attr('text-anchor', 'middle').attr('font-family', NARROW).attr('font-size', 11)
    .attr('fill', '#333').text('Pairwise identity').call(fit, tl);
  const [ax, ay, al, af] = cfg.xTitle;
  g.append('text').attr('x', ax).attr('y', ay).attr('font-family', FONT)
    .attr('font-weight', 'bold').attr('font-size', af).attr('fill', '#222')
    .text('Position in alignment').call(fit, al);

  // region names
  cfg.names.forEach((nm, i) => {
    const [nx, ny, ns, nw] = cfg.namePos[i];
    g.append('text').attr('x', nx).attr('y', ny).attr('font-family', FONT)
      .attr('font-size', ns).attr('fill', nameColors[nm]).text(nm).call(fit, nw);
  });

  // p-value
  const [px, py, pw, ex, ey, ew] = cfg.pvPos;
  g.append('text').attr('x', px).attr('y', py).attr('font-family', FONT).attr('font-weight', 'bold')
    .attr('font-size', 9).attr('fill', '#222').text(cfg.pv[0]).call(fit, pw);
  g.append('text').attr('x', ex).attr('y', ey).attr('font-family', FONT).attr('font-weight', 'bold')
    .attr('font-size', 7).attr('fill', '#222').text(cfg.pv[1]).call(fit, ew);

  // pair legends under the axis
  cfg.legend.forEach((pair, i) => {
    const [lx1, ly1, lw1, lx2, ly2, lw2] = cfg.legendPos[i];
    g.append('text').attr('x', lx1).attr('y', ly1).attr('font-family', FONT)
      .attr('font-weight', 'bold').attr('font-size', 9).attr('fill', legendColors[i])
      .text(pair[0]).call(fit, lw1);
    g.append('text').attr('x', lx2).attr('y', ly2).attr('font-family', FONT)
      .attr('font-weight', 'bold').attr('font-size', 9).attr('fill', legendColors[i])
      .text(pair[1]).call(fit, lw2);
  });
}

panels.forEach(drawPanel);
</script>
</body>
</html>
